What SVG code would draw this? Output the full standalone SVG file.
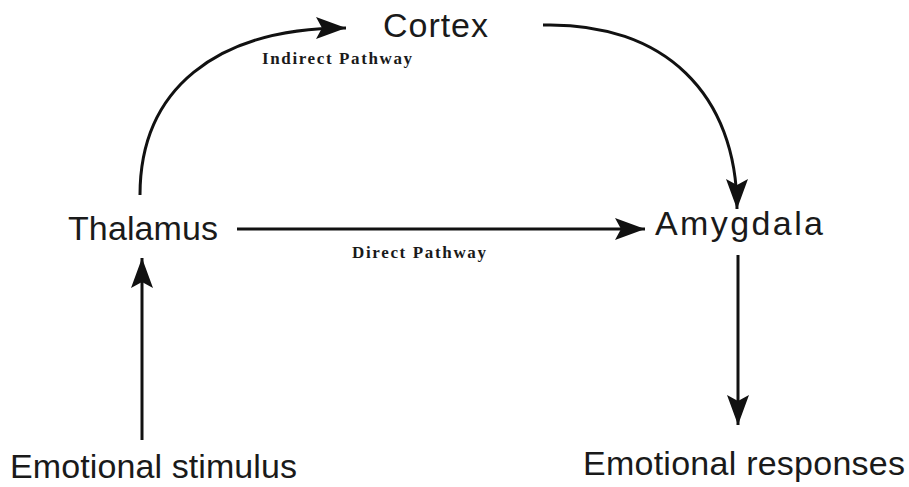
<svg xmlns="http://www.w3.org/2000/svg" width="909" height="487" viewBox="0 0 909 487">
<style>
.node{font-family:"Liberation Sans",Arial,sans-serif;font-size:34px;fill:#1a1a1a;}
.lbl{font-family:"Liberation Serif","Times New Roman",serif;font-size:17px;font-weight:bold;fill:#1a1a1a;}
.conn{fill:none;stroke:#111;stroke-width:3;}
</style>
<defs>
<marker id="ah" viewBox="0 0 30 22" refX="30" refY="11" markerWidth="30" markerHeight="22" markerUnits="userSpaceOnUse" orient="auto">
<path d="M0,0 L30,11 L0,22 L6,11 Z" fill="#111"/>
</marker>
</defs>
<rect width="909" height="487" fill="#fff"/>
<g id="connectors">
<path class="conn" d="M142,440 L142,258" marker-end="url(#ah)"/>
<path class="conn" d="M237,229 L645,229" marker-end="url(#ah)"/>
<path class="conn" d="M738,255 L738,425" marker-end="url(#ah)"/>
<path class="conn" d="M140,195 C140,90 215,28 346,28" marker-end="url(#ah)"/>
<path class="conn" d="M543,25 C665,22 737,95 737,209" marker-end="url(#ah)"/>
</g>
<g id="cortex"><text class="node" x="383" y="37" textLength="105">Cortex</text></g>
<g id="thalamus"><text class="node" x="68" y="240" textLength="150">Thalamus</text></g>
<g id="amygdala"><text class="node" x="655" y="235" textLength="168">Amygdala</text></g>
<g id="stimulus"><text class="node" x="10" y="478" textLength="287">Emotional stimulus</text></g>
<g id="responses"><text class="node" x="583" y="475" textLength="322">Emotional responses</text></g>
<g id="labels">
<text class="lbl" x="262" y="64" textLength="150">Indirect Pathway</text>
<text class="lbl" x="352" y="258" textLength="134">Direct Pathway</text>
</g>
</svg>
